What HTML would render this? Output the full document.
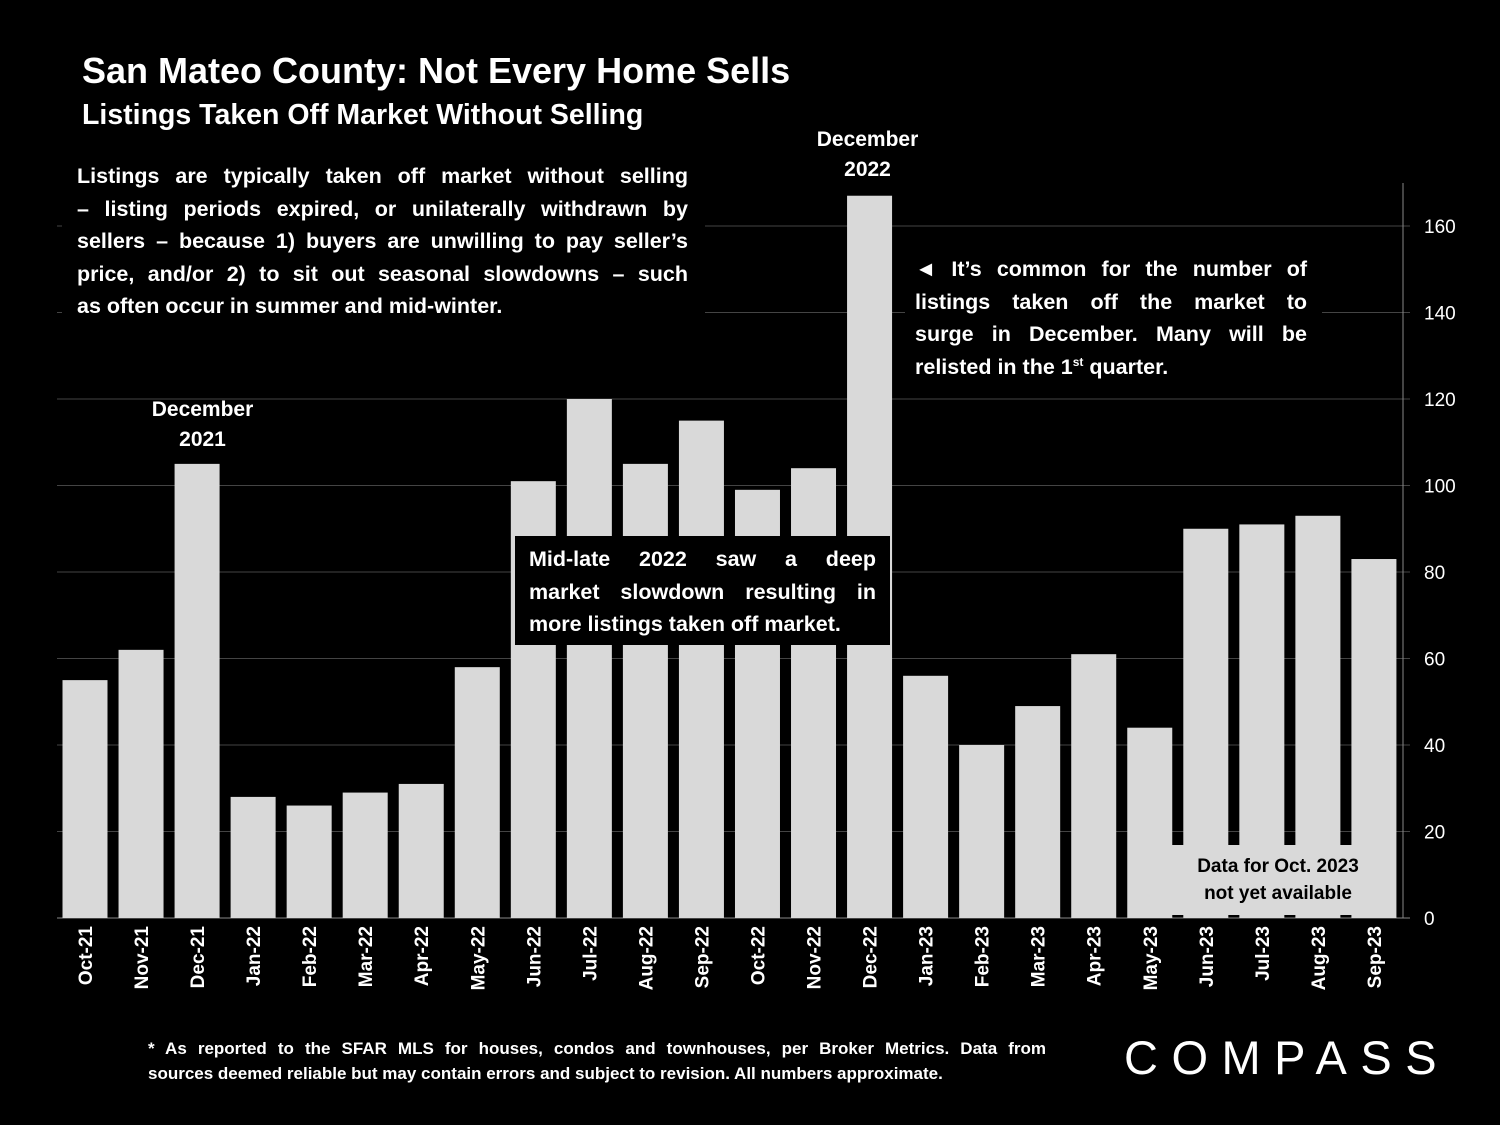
<!DOCTYPE html>
<html><head><meta charset="utf-8"><style>
body{margin:0;background:#000;width:1500px;height:1125px;overflow:hidden;font-family:"Liberation Sans",sans-serif;color:#fff}
.t{position:absolute;font-weight:bold}
.j span{display:block;text-align:justify;text-align-last:justify;white-space:nowrap}
.j span.l{text-align-last:left}
</style></head><body>
<svg id="c" width="1500" height="1125" style="position:absolute;left:0;top:0"></svg>
<div class="t" style="left:82px;top:50px;font-size:36px">San Mateo County: Not Every Home Sells</div>
<div class="t" style="left:82px;top:99px;font-size:28.5px">Listings Taken Off Market Without Selling</div>
<div class="t j" style="left:62px;top:160px;width:611px;padding:0 17px 0 15px;background:#000;font-size:21.5px;line-height:32.5px"><span>Listings are typically taken off market without selling</span><span>– listing periods expired, or unilaterally withdrawn by</span><span>sellers – because 1) buyers are unwilling to pay seller’s</span><span>price, and/or 2) to sit out seasonal slowdowns – such</span><span class="l">as often occur in summer and mid-winter.</span></div>
<div class="t j" style="left:905px;top:253px;width:392px;padding:0 15px 0 10px;background:#000;font-size:21.5px;line-height:32.5px"><span>◄ It’s common for the number of</span><span>listings taken off the market to</span><span>surge in December. Many will be</span><span class="l">relisted in the 1<sup style="font-size:12px;line-height:0">st</sup> quarter.</span></div>
<div class="t j" style="left:515px;top:536px;width:347px;padding:7px 14px 4px;background:#000;font-size:21.5px;line-height:32.5px"><span>Mid-late 2022 saw a deep</span><span>market slowdown resulting in</span><span class="l">more listings taken off market.</span></div>
<div class="t" style="left:140px;top:395px;width:125px;text-align:center;font-size:21px;line-height:30px">December<br>2021</div>
<div class="t" style="left:805px;top:125px;width:125px;text-align:center;font-size:21px;line-height:30px">December<br>2022</div>
<div class="t" style="left:1172px;top:845px;width:212px;height:70px;background:#d9d9d9;color:#000;text-align:center;font-size:19px;line-height:27px;padding-top:8px;box-sizing:border-box">Data for Oct. 2023<br>not yet available</div>
<div class="t j" style="left:148px;top:1036px;width:898px;font-size:17px;line-height:25px"><span>* As reported to the SFAR MLS for houses, condos and townhouses, per Broker Metrics. Data from</span><span class="l">sources deemed reliable but may contain errors and subject to revision. All numbers approximate.</span></div>
<div style="position:absolute;left:1124px;top:1030px;font-size:47px;letter-spacing:13.5px;font-weight:normal">COMPASS</div>
<script>
const categories=["Oct-21","Nov-21","Dec-21","Jan-22","Feb-22","Mar-22","Apr-22","May-22","Jun-22","Jul-22","Aug-22","Sep-22","Oct-22","Nov-22","Dec-22","Jan-23","Feb-23","Mar-23","Apr-23","May-23","Jun-23","Jul-23","Aug-23","Sep-23"];
const values=[55,62,105,28,26,29,31,58,101,120,105,115,99,104,167,56,40,49,61,44,90,91,93,83];
const yTicks=[0,20,40,60,80,100,120,140,160];
const ns="http://www.w3.org/2000/svg",svg=document.getElementById('c');
const y=v=>918-v*4.325, x=i=>85+i*56.04;
function mk(t,a){const e=document.createElementNS(ns,t);for(const k in a)e.setAttribute(k,a[k]);svg.appendChild(e);return e;}
yTicks.forEach(v=>{
 const g=mk('line',{x1:57,x2:1410,y1:y(v),y2:y(v),stroke:v?'#444':'#888','stroke-width':1});
 
 
 const t=mk('text',{x:1424,y:y(v)+7,fill:'#fff','font-size':19,'font-family':'Liberation Sans'});t.textContent=v;
 
 
});
const ax=mk('line',{x1:1403,x2:1403,y1:183,y2:918,stroke:'#888'});


categories.forEach((c,i)=>{
 const r=mk('rect',{x:x(i)-22.5,y:y(values[i]),width:45,height:values[i]*4.325,fill:'#d9d9d9'});
 
 
 const t=mk('text',{transform:`translate(${x(i)+7},${926}) rotate(-90)`,'text-anchor':'end',fill:'#fff','font-size':19,'font-weight':'bold','font-family':'Liberation Sans'});t.textContent=c;
 
 
});
</script>
</body></html>
